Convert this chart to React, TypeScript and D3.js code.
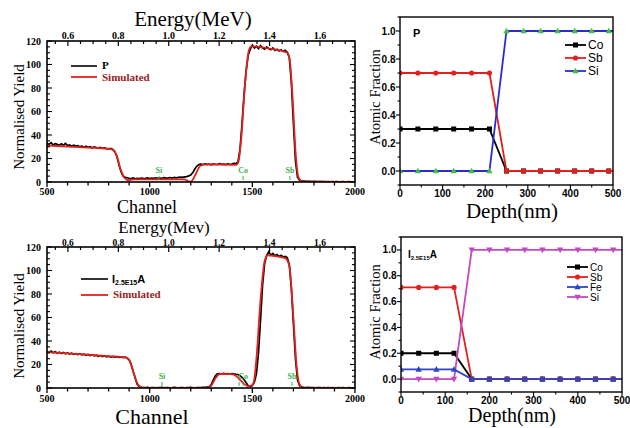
import React from 'react';
import * as d3 from 'd3';

// ---------- Data ----------
const channels = d3.range(500, 2001, 10);

const yieldP = [
  33, 32, 33.5, 31.5, 32.6, 32, 31.2, 32.5, 31.4, 32.8, 31, 31.6, 30.5, 31.4, 30.6, 31, 30.1, 30.6, 29.6, 30.4,
  29.5, 30, 29.1, 29.9, 29.4, 28.9, 29.5, 28.6, 29, 28.4, 28.1, 28.5, 27.6,
  26, 22, 15, 9, 5.2, 4, 3.6, 3.2,
  3, 3.5, 2.8, 3.2, 3, 3.4, 2.9, 3.1, 3.5, 3, 3.3, 3.1, 3.6, 3.2, 3.4, 3.2, 3.7, 3.3, 3.5, 3.8, 3.4, 3.9, 3.6, 4, 4.2, 3.9, 4.4, 4.6, 5.2,
  6, 8, 11, 13.5, 14.8, 15.2,
  14.8, 15.5, 15, 15.3, 14.7, 15.4, 15.1, 14.9, 15.6, 15, 15.2, 14.8, 15.5, 15.1, 15.3, 15.8, 15.6, 17,
  28, 50, 75, 95, 108, 113, 116.5, 114, 115.5, 113.5, 116, 114, 113, 115, 113.5, 112.5, 114, 112, 113, 111.5, 112.5, 111, 112, 110.5, 106,
  85, 50, 18, 4, 1.5, 1, 0.8, 0.6, 0.5, 0.6, 0.4, 0.5, 0.3, 0.4, 0.3, 0.4, 0.3, 0.2, 0.3, 0.2, 0.3, 0.2, 0.3, 0.2, 0.2, 0.3, 0.2, 0.2, 0.3, 0.2, 0.2, 0.2,
];
const simChP = [500, 600, 700, 800, 820, 840, 860, 880, 895, 920, 1000, 1100, 1170, 1190, 1200, 1210, 1225, 1245, 1265, 1300, 1420, 1432, 1445, 1465, 1483, 1495, 1600, 1670, 1682, 1695, 1712, 1725, 1745, 2000];
const simYieldP = [31, 30.2, 29.3, 28.3, 27.5, 22, 10, 3, 1.5, 2.2, 2.3, 2.3, 2.2, 0.6, 0.3, 2, 7, 13.5, 14.8, 14.9, 14.6, 17, 35, 85, 112, 115.5, 113, 110, 104, 75, 22, 4, 0.3, 0];

const yieldI = [
  31, 30.2, 31.4, 30, 30.8, 29.6, 30.5, 29.4, 30.2, 29.2, 29.9, 28.9, 29.6, 28.7, 29.3, 28.4, 29, 28.2, 28.8, 27.9,
  28.5, 27.6, 28.2, 27.3, 27.9, 27, 27.6, 26.8, 27.4, 26.6, 27.1, 26.4, 26.9, 26.2, 26.7, 26, 26.5, 25.9, 26.2,
  25.5, 24, 20, 14, 8, 3, 1, 0.5,
  0.4, 0.3, 0.5, 0.2, 0.4, 0.3, 0.2, 0.4, 0.3, 0.5, 0.2, 0.3, 0.4, 0.2, 0.3, 0.5, 0.3, 0.2, 0.4, 0.3, 0.2, 0.4, 0.3, 0.5, 0.3, 0.2, 0.4, 0.3, 0.4, 0.5, 0.6, 0.8,
  1, 3, 7, 10.5, 12, 12.3, 11.8, 12.4, 12, 12.2, 11.9, 12.3, 12, 11.7, 11.5, 10.5, 9, 7, 4.5,
  2, 1.2, 2, 5, 12, 30, 58, 88, 106, 113, 116,
  113, 114.5, 112.5, 113.5, 112, 113, 111.5, 112, 111,
  105, 85, 55, 25, 7, 2, 0.8, 0.5, 0.4, 0.5, 0.3, 0.4, 0.3, 0.2, 0.3, 0.4, 0.2, 0.3, 0.2, 0.3, 0.2, 0.3, 0.2, 0.2, 0.3, 0.2, 0.3, 0.2, 0.2, 0.3, 0.2, 0.2, 0.2,
];
const simChI = [500, 600, 700, 800, 880, 900, 920, 940, 960, 980, 1280, 1300, 1320, 1340, 1360, 1400, 1420, 1440, 1460, 1480, 1500, 1510, 1520, 1540, 1560, 1575, 1600, 1660, 1680, 1700, 1715, 1730, 1750, 2000];
const simYieldI = [30.5, 29.5, 28.3, 27.2, 26.2, 24, 14, 4, 0.5, 0, 0, 2, 8, 11.8, 12, 11.8, 10.5, 7, 3.5, 1.5, 2.5, 8, 25, 75, 108, 113, 112.5, 110.5, 104, 60, 20, 3, 0, 0];

const channelTicks = [500, 1000, 1500, 2000];
const yieldTicks = [0, 20, 40, 60, 80, 100, 120];
const energyTicks = [0.6, 0.8, 1.0, 1.2, 1.4, 1.6];

const elementNames = ['Si', 'Co', 'Sb'];
const elementChP = [1045, 1455, 1683];
const elementChI = [1060, 1455, 1693];

const depthP = [0, 42, 84, 126, 168, 210, 250, 290, 330, 370, 410, 450, 490];
const coP = [0.3, 0.3, 0.3, 0.3, 0.3, 0.3, 0, 0, 0, 0, 0, 0, 0];
const sbP = [0.7, 0.7, 0.7, 0.7, 0.7, 0.7, 0, 0, 0, 0, 0, 0, 0];
const siP = [0, 0, 0, 0, 0, 0, 1, 1, 1, 1, 1, 1, 1];

const depthI = [0, 40, 80, 120, 160, 200, 240, 280, 320, 360, 400, 440, 480];
const coI = [0.2, 0.2, 0.2, 0.2, 0, 0, 0, 0, 0, 0, 0, 0, 0];
const sbI = [0.71, 0.71, 0.71, 0.71, 0, 0, 0, 0, 0, 0, 0, 0, 0];
const feI = [0.075, 0.075, 0.075, 0.075, 0, 0, 0, 0, 0, 0, 0, 0, 0];
const siI = [0, 0, 0, 0, 1, 1, 1, 1, 1, 1, 1, 1, 1];

const depthTicks = [0, 100, 200, 300, 400, 500];
const fractionTicks = [0, 0.2, 0.4, 0.6, 0.8, 1.0];

// ---------- Styles ----------
const SERIF = '"Liberation Serif", "Times New Roman", serif';
const SANS = '"Liberation Sans", Arial, sans-serif';
const GREEN = '#3db34a';
const RED = '#e3201b';

type Frame = { x0: number; x1: number; y0: number; y1: number };

function RBSPanel(props: {
  id: string; f: Frame; exp: number[]; simCh: number[]; simY: number[];
  elCh: number[]; elDouble?: boolean; legendLabel: React.ReactNode;
  lg: { x: number; y1: number; y2: number; w: number; ty: number };
  title: string; titleX: number; titleY: number; titleSize: number; energyLabelY: number; energySize: number;
  chX: number; chY: number; chSize: number; chLabelDy: number; ylabY: number;
}) {
  const { f } = props;
  const xs = d3.scaleLinear().domain([500, 2000]).range([f.x0, f.x1]);
  const es = d3.scaleLinear().domain([0.517, 1.739]).range([f.x0, f.x1]);
  const ys = d3.scaleLinear().domain([0, 120]).range([f.y1, f.y0]);
  const expPts: [number, number][] = props.exp.map((v, i) => [channels[i], v]);
  const simPts: [number, number][] = props.simCh.map((c, i) => [c, props.simY[i]]);
  const lineExp = d3.line<[number, number]>().x(d => xs(d[0])).y(d => ys(d[1]));
  const lineSim = d3.line<[number, number]>().x(d => xs(d[0])).y(d => ys(d[1])).curve(d3.curveMonotoneX);
  const minorX = d3.range(500, 2001, 100);
  const minorE = d3.range(0.55, 1.74, 0.05);
  const minorY = d3.range(0, 121, 5);
  return (
    <g>
      <defs>
        <clipPath id={props.id}>
          <rect x={f.x0} y={f.y0 - 4} width={f.x1 - f.x0} height={f.y1 - f.y0 + 4} />
        </clipPath>
      </defs>
      <g clipPath={`url(#${props.id})`}>
        <path d={lineExp(expPts) || ''} fill="none" stroke="#000" strokeWidth={1.7} />
        <path d={lineSim(simPts) || ''} fill="none" stroke={RED} strokeWidth={1.8} />
      </g>
      <rect x={f.x0} y={f.y0} width={f.x1 - f.x0} height={f.y1 - f.y0} fill="none" stroke="#000" strokeWidth={1.6} />
      {minorX.map(c => (
        <line key={'bx' + c} x1={xs(c)} x2={xs(c)} y1={f.y1} y2={f.y1 + (c % 500 === 0 ? 5 : 3.5)} stroke="#000" strokeWidth={1.3} />
      ))}
      {minorE.map(e => {
        const major = energyTicks.some(t => Math.abs(t - e) < 1e-6);
        return <line key={'te' + e} x1={es(e)} x2={es(e)} y1={f.y0} y2={f.y0 + (major ? 5 : 3)} stroke="#000" strokeWidth={1.2} />;
      })}
      {minorY.map(v => (
        <g key={'ty' + v}>
          <line x1={f.x0} x2={f.x0 + (v % 20 === 0 ? 5 : 3)} y1={ys(v)} y2={ys(v)} stroke="#000" strokeWidth={1.1} />
          <line x1={f.x1} x2={f.x1 - (v % 20 === 0 ? 5 : 3)} y1={ys(v)} y2={ys(v)} stroke="#000" strokeWidth={1.1} />
        </g>
      ))}
      {channelTicks.map(c => (
        <text key={'cl' + c} x={xs(c)} y={f.y1 + props.chLabelDy} textAnchor="middle" fontFamily={SERIF} fontWeight="bold" fontSize={10}>{c}</text>
      ))}
      {energyTicks.map(e => (
        <text key={'el' + e} x={es(e)} y={props.energyLabelY} textAnchor="middle" fontFamily={SERIF} fontWeight="bold" fontSize={props.energySize}>{e.toFixed(1)}</text>
      ))}
      {yieldTicks.map(v => (
        <text key={'yl' + v} x={f.x0 - 6} y={ys(v)} dy="0.35em" textAnchor="end" fontFamily={SERIF} fontWeight="bold" fontSize={10}>{v}</text>
      ))}
      {props.elCh.map((c, i) => (
        <g key={'el' + i}>
          <text x={xs(c)} y={f.y1 - 9} textAnchor="middle" fontFamily={SERIF} fontWeight="bold" fontSize={8} fill={GREEN}>{elementNames[i]}</text>
          <line x1={xs(c)} x2={xs(c)} y1={f.y1 - 6} y2={f.y1 - 2} stroke={GREEN} strokeWidth={1} />
          {props.elDouble && i === 1 && (
            <line x1={xs(c) - 4} x2={xs(c) - 4} y1={f.y1 - 6} y2={f.y1 - 2} stroke={GREEN} strokeWidth={1} />
          )}
        </g>
      ))}
      {/* legend */}
      <line x1={props.lg.x} x2={props.lg.x + props.lg.w} y1={props.lg.y1} y2={props.lg.y1} stroke="#000" strokeWidth={1.6} />
      <line x1={props.lg.x} x2={props.lg.x + props.lg.w} y1={props.lg.y2} y2={props.lg.y2} stroke={RED} strokeWidth={1.8} />
      <g>{props.legendLabel}</g>
      <text x={props.lg.x + props.lg.w + 5} y={props.lg.ty} fontFamily={SERIF} fontWeight="bold" fontSize={11} fill="#9b1c1c">Simulated</text>
      {/* titles */}
      <text x={props.titleX} y={props.titleY} textAnchor="middle" fontFamily={SERIF} fontSize={props.titleSize}>{props.title}</text>
      <text x={props.chX} y={props.chY} textAnchor="middle" fontFamily={SERIF} fontSize={props.chSize}>Channel</text>
      <text transform={`translate(24,${props.ylabY}) rotate(-90)`} textAnchor="middle" fontFamily={SERIF} fontSize={15}>Normalised Yield</text>
    </g>
  );
}

type Series = { name: string; values: number[]; color: string; marker: 'square' | 'circle' | 'tri' | 'tridown'; markerColor: string };

function Marker({ x, y, kind, color }: { x: number; y: number; kind: string; color: string }) {
  if (kind === 'square') return <rect x={x - 2.5} y={y - 2.5} width={5} height={5} fill={color} />;
  if (kind === 'circle') return <circle cx={x} cy={y} r={2.6} fill={color} />;
  if (kind === 'tri') return <path d={`M${x},${y - 3.3}L${x + 3.2},${y + 2.3}L${x - 3.2},${y + 2.3}Z`} fill={color} />;
  return <path d={`M${x},${y + 3.3}L${x + 3.2},${y - 2.3}L${x - 3.2},${y - 2.3}Z`} fill={color} />;
}

function FractionPanel(props: {
  id: string; f: Frame; depth: number[]; series: Series[]; label: React.ReactNode;
  legendX: number; legendY: number[]; legendSize: number; ylabY: number; depthY: number; depthSize: number;
}) {
  const { f } = props;
  const xs = d3.scaleLinear().domain([0, 500]).range([f.x0, f.x1]);
  const ys = d3.scaleLinear().domain([-0.1, 1.1]).range([f.y1, f.y0]);
  const line = d3.line<[number, number]>().x(d => xs(d[0])).y(d => ys(d[1]));
  const xMax = xs.domain()[1];
  const minorX = d3.range(0, 501, 50);
  const minorY = d3.range(-0.1, 1.11, 0.1);
  return (
    <g>
      <defs>
        <clipPath id={props.id}>
          <rect x={f.x0} y={f.y0} width={f.x1 - f.x0} height={f.y1 - f.y0} />
        </clipPath>
      </defs>
      <g clipPath={`url(#${props.id})`}>
        {props.series.map(s => {
          const pts: [number, number][] = props.depth.map((d, i) => [d, s.values[i]]);
          pts.push([xMax, s.values[s.values.length - 1]]);
          return (
            <g key={s.name}>
              <path d={line(pts) || ''} fill="none" stroke={s.color} strokeWidth={1.8} />
              {props.depth.map((d, i) => (
                <Marker key={i} x={xs(d)} y={ys(s.values[i])} kind={s.marker} color={s.markerColor} />
              ))}
            </g>
          );
        })}
      </g>
      <rect x={f.x0} y={f.y0} width={f.x1 - f.x0} height={f.y1 - f.y0} fill="none" stroke="#000" strokeWidth={1.4} />
      {minorX.map(d => (
        <line key={'mx' + d} x1={xs(d)} x2={xs(d)} y1={f.y1} y2={f.y1 + (d % 100 === 0 ? 4 : 2.5)} stroke="#000" strokeWidth={1.1} />
      ))}
      {minorY.map((v, i) => (
        <line key={'my' + i} x1={f.x0} x2={f.x0 - (i % 2 === 1 ? 4 : 2.5)} y1={ys(v)} y2={ys(v)} stroke="#000" strokeWidth={1.1} />
      ))}
      {depthTicks.map(d => (
        <text key={'dl' + d} x={xs(d)} y={f.y1 + 11.5} textAnchor="middle" fontFamily={SANS} fontWeight="bold" fontSize={10}>{d}</text>
      ))}
      {fractionTicks.map(v => (
        <text key={'fl' + v} x={f.x0 - 4.5} y={ys(v)} dy="0.35em" textAnchor="end" fontFamily={SANS} fontWeight="bold" fontSize={10}>{v.toFixed(1)}</text>
      ))}
      {props.label}
      {props.series.map((s, i) => (
        <g key={'lg' + s.name}>
          <line x1={props.legendX} x2={props.legendX + 21} y1={props.legendY[i]} y2={props.legendY[i]} stroke={s.color} strokeWidth={1.8} />
          <Marker x={props.legendX + 10.5} y={props.legendY[i]} kind={s.marker} color={s.markerColor} />
          <text x={props.legendX + 23} y={props.legendY[i]} dy="0.36em" fontFamily={SANS} fontSize={props.legendSize}>{s.name}</text>
        </g>
      ))}
      <text transform={`translate(380,${props.ylabY}) rotate(-90)`} textAnchor="middle" fontFamily={SERIF} fontSize={14.5}>Atomic Fraction</text>
      <text x={512} y={props.depthY} textAnchor="middle" fontFamily={SERIF} fontSize={props.depthSize}>Depth(nm)</text>
    </g>
  );
}

export default function App() {
  const seriesP: Series[] = [
    { name: 'Co', values: coP, color: '#000', marker: 'square', markerColor: '#000' },
    { name: 'Sb', values: sbP, color: RED, marker: 'circle', markerColor: RED },
    { name: 'Si', values: siP, color: '#2b2bd0', marker: 'tri', markerColor: '#45c045' },
  ];
  const seriesI: Series[] = [
    { name: 'Co', values: coI, color: '#000', marker: 'square', markerColor: '#000' },
    { name: 'Sb', values: sbI, color: RED, marker: 'circle', markerColor: RED },
    { name: 'Fe', values: feI, color: '#2f45c8', marker: 'tri', markerColor: '#2f45c8' },
    { name: 'Si', values: siI, color: '#c24ac2', marker: 'tridown', markerColor: '#c24ac2' },
  ];
  const seriesIOrdered = [seriesI[0], seriesI[1], seriesI[3], seriesI[2]];
  return (
    <svg width={630} height={428} style={{ position: 'absolute', left: 0, top: 0, background: '#fff' }}>
      <rect width={630} height={428} fill="#fff" />
      <RBSPanel
        id="clipTL" f={{ x0: 47, x1: 355, y0: 41, y1: 182 }} exp={yieldP} simCh={simChP} simY={simYieldP}
        elCh={elementChP}
        lg={{ x: 71, y1: 66, y2: 77, w: 26, ty: 81 }}
        legendLabel={<text x={102} y={68.5} fontFamily={SERIF} fontWeight="bold" fontSize={11}>P</text>}
        title="Energy(MeV)" titleX={193} titleY={25.5} titleSize={21} energyLabelY={39} energySize={10}
        chX={147} chY={213} chSize={18} chLabelDy={13} ylabY={117}
      />
      <RBSPanel
        id="clipBL" f={{ x0: 47, x1: 355, y0: 247, y1: 388 }} exp={yieldI} simCh={simChI} simY={simYieldI}
        elCh={elementChI} elDouble
        lg={{ x: 81, y1: 279, y2: 295, w: 27, ty: 298 }}
        legendLabel={
          <text x={112} y={283} fontFamily={SANS} fontWeight="bold" fontSize={11}>
            I<tspan fontSize={7} dy={2}>2.5E15</tspan><tspan dy={-2}>A</tspan>
          </text>
        }
        title="Energy(Mev)" titleX={164} titleY={233} titleSize={17} energyLabelY={245.5} energySize={9.5}
        chX={152} chY={424} chSize={22} chLabelDy={14} ylabY={326}
      />
      <FractionPanel
        id="clipTR" f={{ x0: 400, x1: 613, y0: 17, y1: 185 }} depth={depthP} series={seriesP}
        label={<text x={413} y={37} fontFamily={SANS} fontWeight="bold" fontSize={11}>P</text>}
        legendX={565} legendY={[45, 58, 71]} legendSize={12} ylabY={97} depthY={218} depthSize={21}
      />
      <FractionPanel
        id="clipBR" f={{ x0: 401, x1: 622, y0: 237, y1: 392 }} depth={depthI} series={seriesIOrdered}
        label={
          <text x={408} y={258} fontFamily={SANS} fontWeight="bold" fontSize={10}>
            I<tspan fontSize={6} dy={1.5}>2.5E15</tspan><tspan dy={-1.5}>A</tspan>
          </text>
        }
        legendX={567} legendY={[267, 277, 297, 287]} legendSize={10} ylabY={312} depthY={422} depthSize={20}
      />
    </svg>
  );
}
